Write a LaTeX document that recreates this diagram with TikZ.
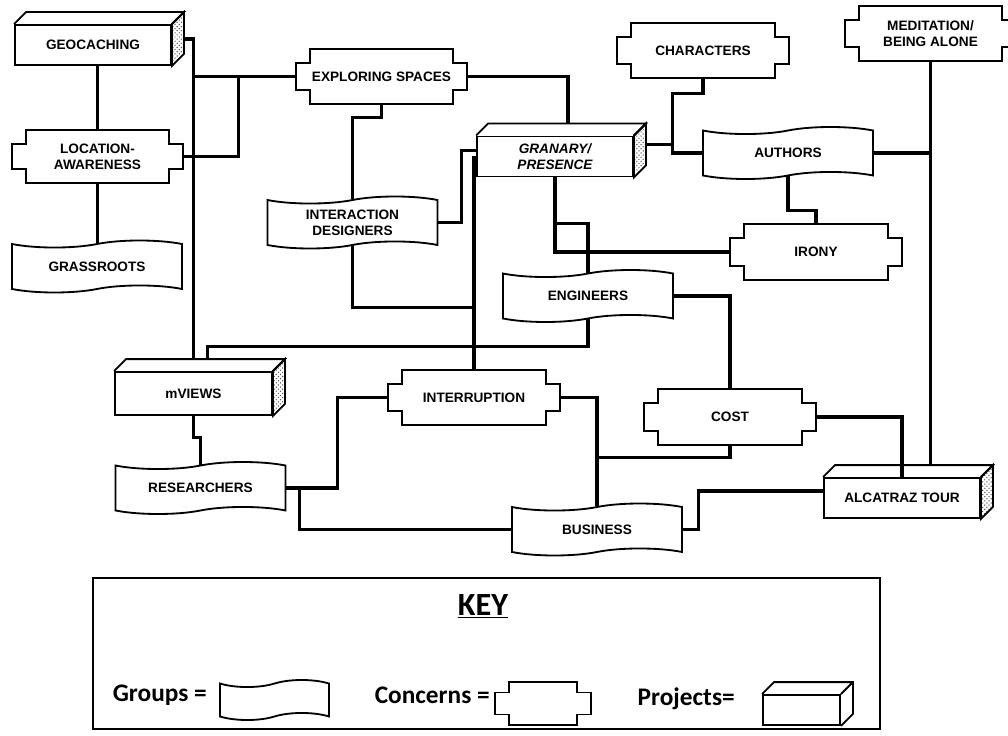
\documentclass[tikz,border=0pt]{standalone}
\usepackage{fontspec}
\setmainfont{Liberation Sans}
\newfontfamily\keyfont{Carlito}
\usepackage{tikz}
\usetikzlibrary{positioning}
\usetikzlibrary{shapes.symbols,patterns}

\tikzset{
  lbl/.style={font=\fontsize{9.7}{11.5}\selectfont\bfseries, align=center},
  group/.style={lbl, tape, draw, line width=1.3pt, fill=white, minimum width=4.25cm, minimum height=1.3cm, inner sep=0pt},
  concern/.style={lbl, rectangle, minimum width=4.275cm, minimum height=1.375cm, inner sep=0pt},
  project/.style={lbl, rectangle, draw, line width=1.3pt, fill=white, minimum width=3.9cm, minimum height=1cm, inner sep=0pt},
  outline/.style={line width=1.3pt},
  link/.style={line width=2.2pt},
  keytext/.style={font=\keyfont\fontsize{18}{20}\selectfont\bfseries, inner sep=0pt},
  keytitle/.style={font=\keyfont\fontsize{23}{26}\selectfont\bfseries, inner sep=0pt}
}

\begin{document}
\begin{tikzpicture}
  \useasboundingbox (0,0) rectangle (25.2,18.375);

  % projects
  \node[project] (geocaching) at (2.325,17.25) {GEOCACHING};
  \node[project, font=\fontsize{9.7}{11.5}\selectfont\bfseries\itshape] (granary) at (13.875,14.4625) {GRANARY/\\PRESENCE};
  \node[project, minimum width=3.925cm, minimum height=1.075cm] (mviews) at (4.8375,8.5375) {mVIEWS};
  \node[project] (alcatraz) at (22.55,5.925) {ALCATRAZ TOUR};

  % concerns
  \node[concern, minimum height=1.325cm] (locaware) at (2.4375,14.4625) {LOCATION-\\AWARENESS};
  \node[concern] (exploring) at (9.5375,16.4625) {EXPLORING SPACES};
  \node[concern] (characters) at (17.575,17.1125) {CHARACTERS};
  \node[concern] (meditation) at (23.2625,17.5375) {MEDITATION/\\BEING ALONE};
  \node[concern] (irony) at (20.4,12.075) {IRONY};
  \node[concern] (interruption) at (11.85,8.4375) {INTERRUPTION};
  \node[concern] (cost) at (18.25,7.95) {COST};

  % groups
  \node[group] (grassroots) at (2.425,11.7125) {GRASSROOTS};
  \node[group] (authors) at (19.7,14.55) {AUTHORS};
  \node[group] (interaction) at (8.8125,12.8125) {INTERACTION\\DESIGNERS};
  \node[group] (engineers) at (14.7,10.975) {ENGINEERS};
  \node[group] (researchers) at (5.0125,6.175) {RESEARCHERS};
  \node[group] (business) at (14.925,5.1375) {BUSINESS};

  % key
  \node[draw, line width=1.2pt, minimum width=19.675cm, minimum height=3.775cm] (keybox) at (12.1625,2.0375) {};
  \node[keytitle, anchor=base] (keyhead) at (12.075,3.0) {\underline{KEY}};
  \node[group, minimum width=2.725cm, minimum height=1cm] (keygroup) at (6.8625,0.875) {};
  \node[concern, minimum width=2.4cm, minimum height=1.075cm] (keyconcern) at (13.575,0.7875) {};
  \node[project, minimum width=1.925cm, minimum height=0.75cm] (keyproject) at (20.0375,0.625) {};
  \node[keytext, anchor=base east] (groupslbl) at (5.175,0.85) {Groups =};
  \node[keytext, anchor=base east] (concernslbl) at (12.25,0.8) {Concerns =};
  \node[keytext, anchor=base east] (projectslbl) at (18.375,0.75) {Projects=};

  \foreach \n/\i in {locaware/0.35cm, exploring/0.35cm, characters/0.35cm, meditation/0.35cm,
                     irony/0.35cm, interruption/0.35cm, cost/0.35cm, keyconcern/0.27cm}
    \draw[outline] ([xshift=0.35cm]\n.north west) -- ([xshift=-0.35cm]\n.north east)
      -- ([xshift=-0.35cm,yshift=-\i]\n.north east) -- ([yshift=-\i]\n.north east)
      -- ([yshift=\i]\n.south east) -- ([xshift=-0.35cm,yshift=\i]\n.south east)
      -- ([xshift=-0.35cm]\n.south east) -- ([xshift=0.35cm]\n.south west)
      -- ([xshift=0.35cm,yshift=\i]\n.south west) -- ([yshift=\i]\n.south west)
      -- ([yshift=-\i]\n.north west) -- ([xshift=0.35cm,yshift=-\i]\n.north west) -- cycle;

  \foreach \n in {geocaching, granary, mviews, alcatraz} {
    \draw[outline] (\n.north west) -- ++(0.3cm,0.3cm) -- ([shift={(0.3cm,0.3cm)}]\n.north east) -- (\n.north east);
    \draw[outline, pattern=crosshatch dots, pattern color=black!70] (\n.north east) -- ++(0.3cm,0.3cm)
      -- ([shift={(0.3cm,0.3cm)}]\n.south east) -- (\n.south east) -- cycle;
  }
  \draw[outline] (keyproject.north west) -- ++(0.3cm,0.3cm) -- ([shift={(0.3cm,0.3cm)}]keyproject.north east)
    -- ([shift={(0.3cm,0.3cm)}]keyproject.south east) -- (keyproject.south east)
    (keyproject.north east) -- ++(0.3cm,0.3cm);

  \coordinate (mv-back) at ([yshift=0.3cm]mviews.north);
  \coordinate (alc-back) at ([yshift=0.3cm]alcatraz.north);

  \draw[link] ([xshift=0.3cm,yshift=0.15cm]geocaching.east) -| (mv-back);
  \draw[link] (exploring.west) -- (exploring.west -| mv-back);
  \draw[link] (locaware.east) -- ++(1.375cm,0) |- (exploring.west);
  \draw[link] (locaware.north) -- (locaware.north |- geocaching.south);
  \draw[link] (locaware.south) -- (locaware.south |- grassroots.north);
  \draw[link] (exploring.south) -- ++(0,-0.325cm) -| (interaction.north);
  \draw[link] (interaction.south) -- ++(0,-1.55cm) -| (interruption.north);
  \draw[link] (exploring.east) -| ([xshift=0.325cm,yshift=0.3cm]granary.north);
  \draw[link] (interaction.east) -- ++(0.575cm,0) |- ([yshift=0.15cm]granary.west);
  \draw[link] (interruption.north) -- (interruption.north |- granary.west);
  \draw[link] ([xshift=0.35cm,yshift=0.3cm]mviews.north) -- ++(0,0.325cm) -| (engineers.south);
  \draw[link] (granary.south) |- (irony.west);
  \draw[link] (granary.south) -- ++(0,-1.15cm) -| (engineers.north);
  \draw[link] (characters.south) -- ++(0,-0.375cm) -| ([xshift=-0.75cm]authors.west) -- (authors.west);
  \draw[link] ([xshift=0.3cm,yshift=0.3cm]granary.east) -| ([xshift=-0.75cm]authors.west);
  \draw[link] (authors.east) -- (authors.east -| meditation.south);
  \draw[link] (meditation.south) -- (meditation.south |- alc-back);
  \draw[link] (authors.south) -- ++(0,-0.85cm) -| (irony.north);
  \draw[link] (engineers.east) -| (cost.north);
  \draw[link] (cost.east) -| (alcatraz.north);
  \draw[link] (interruption.east) -| (business.north);
  \draw[link] (cost.south) -- ++(0,-0.325cm) -| (business.north);
  \draw[link] (researchers.east) -- ++(1.275cm,0) |- (interruption.west);
  \draw[link] (researchers.east) -- ++(0.325cm,0) |- (business.west);
  \draw[link] (mviews.south) -- ++(0,-0.55cm) -| (researchers.north);
  \draw[link] (business.east) -- ++(0.4cm,0) |- ([yshift=0.175cm]alcatraz.west);
\end{tikzpicture}
\end{document}
